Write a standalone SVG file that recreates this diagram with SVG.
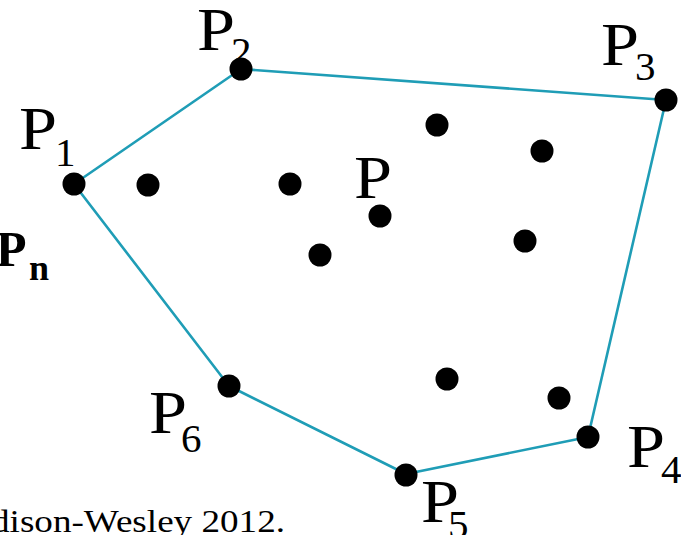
<svg xmlns="http://www.w3.org/2000/svg" width="681" height="535" viewBox="0 0 681 535" font-family="'Liberation Serif', 'Times New Roman', Times, serif">
<style>
.hull{fill:none;stroke:#1f9db6;stroke-width:2.6;stroke-linejoin:round}
.pt{fill:#000}
text{font-family:'Liberation Serif','Times New Roman',Times,serif;fill:#000}
.big{font-size:61px}
.sub{font-size:41px}
.bold{font-weight:bold}
</style>
<rect width="681" height="535" fill="#fff"/>
<g id="connectors">
<polygon class="hull" points="74,184 241,69 666,100 588,437 406,474 229,386"/>
</g>
<g id="P1"><circle class="pt" cx="74" cy="184" r="11.5"/>
<text class="big" transform="translate(19,149) scale(1.12,1)">P</text><text class="sub" x="55" y="166">1</text></g>
<g id="P2"><circle class="pt" cx="241" cy="69" r="11.5"/>
<text class="big" transform="translate(197,50) scale(1.12,1)">P</text><text class="sub" x="231" y="65">2</text></g>
<g id="P3"><circle class="pt" cx="666" cy="100" r="11.5"/>
<text class="big" transform="translate(601,65) scale(1.12,1)">P</text><text class="sub" x="635" y="80">3</text></g>
<g id="P4"><circle class="pt" cx="588" cy="437" r="11.5"/>
<text class="big" transform="translate(627,467) scale(1.12,1)">P</text><text class="sub" x="661" y="483">4</text></g>
<g id="P5"><circle class="pt" cx="406" cy="475" r="11.5"/>
<text class="big" transform="translate(421,522) scale(1.12,1)">P</text><text class="sub" x="448" y="538">5</text></g>
<g id="P6"><circle class="pt" cx="229" cy="386" r="11.5"/>
<text class="big" transform="translate(149,433) scale(1.12,1)">P</text><text class="sub" x="181" y="452">6</text></g>
<g id="P"><circle class="pt" cx="380" cy="216" r="11.5"/>
<text class="big" transform="translate(354,198) scale(1.12,1)">P</text></g>
<g id="Pn">
<text class="bold" font-size="50" x="-4" y="266">P</text><text class="bold" font-size="36" x="29" y="280">n</text></g>
<g id="interior">
<circle class="pt" cx="148" cy="185" r="11.5"/>
<circle class="pt" cx="290" cy="184" r="11.5"/>
<circle class="pt" cx="437" cy="125" r="11.5"/>
<circle class="pt" cx="542" cy="151" r="11.5"/>
<circle class="pt" cx="320" cy="255" r="11.5"/>
<circle class="pt" cx="525" cy="241" r="11.5"/>
<circle class="pt" cx="447" cy="379" r="11.5"/>
<circle class="pt" cx="559" cy="398" r="11.5"/>
</g>
<text font-size="32" x="-9" y="532" textLength="294" lengthAdjust="spacingAndGlyphs">dison-Wesley 2012.</text>
</svg>
